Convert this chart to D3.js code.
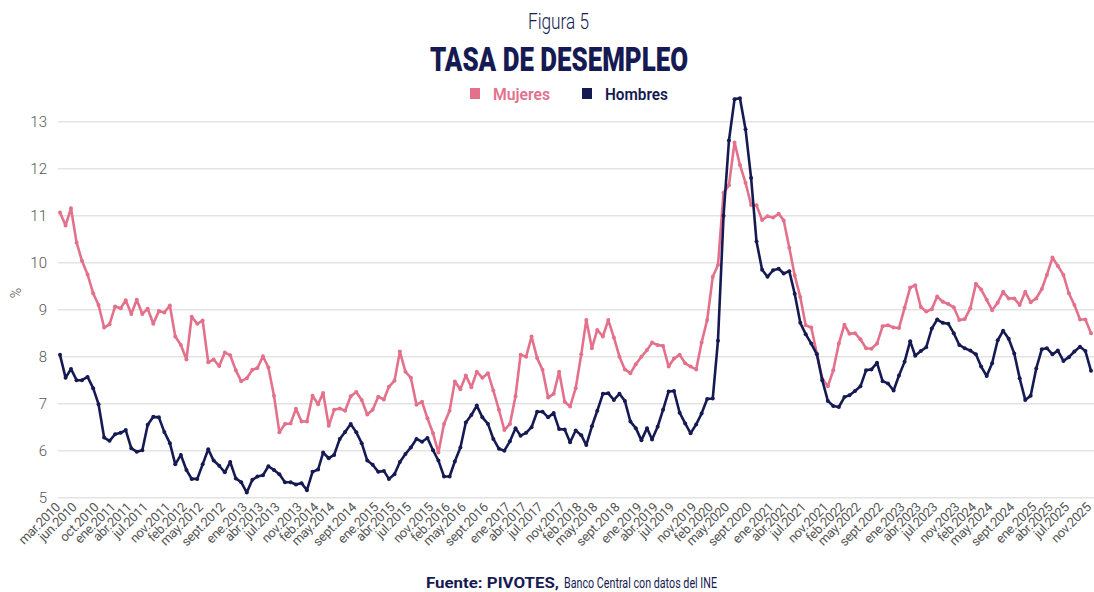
<!DOCTYPE html>
<html>
<head>
	<meta charset="utf-8">
	<title>Tasa de desempleo</title>
	<style>
		body { margin: 0; background: #fff; }
		text { font-family: Roboto, "Noto Sans", sans-serif; }
	</style>
</head>
<body>
	<svg id="container" width="1094" height="592"></svg>
</body>
<script src="https://cdn.jsdelivr.net/npm/d3@7"></script>
<script>
	// moving-quarter data, mar 2010 .. nov 2025 (one value per month)
	const startMonth = [2010, 2] // year, month index (0 = ene)
	const mujeres = [
		11.07, 10.79, 11.16, 10.43, 10.04, 9.75, 9.35, 9.10, 8.62, 8.69,
		9.07, 9.03, 9.20, 8.91, 9.21, 8.91, 9.02, 8.70, 8.97, 8.94,
		9.09, 8.43, 8.25, 7.94, 8.85, 8.70, 8.77, 7.88, 7.94, 7.80,
		8.09, 8.03, 7.71, 7.48, 7.54, 7.72, 7.76, 8.01, 7.77, 7.17,
		6.39, 6.57, 6.58, 6.89, 6.62, 6.62, 7.17, 6.99, 7.23, 6.53,
		6.87, 6.90, 6.85, 7.16, 7.25, 7.08, 6.77, 6.87, 7.15, 7.09,
		7.36, 7.49, 8.11, 7.68, 7.55, 6.98, 7.04, 6.69, 6.37, 5.96,
		6.57, 6.85, 7.47, 7.31, 7.60, 7.35, 7.68, 7.55, 7.65, 7.28,
		6.87, 6.44, 6.57, 7.16, 8.04, 8.00, 8.43, 7.97, 7.72, 7.13,
		7.21, 7.68, 7.04, 6.94, 7.33, 8.05, 8.78, 8.18, 8.57, 8.43,
		8.78, 8.41, 8.00, 7.73, 7.65, 7.84, 8.00, 8.14, 8.30, 8.25,
		8.23, 7.79, 7.96, 8.04, 7.86, 7.79, 7.73, 8.30, 8.78, 9.70,
		9.95, 11.49, 11.65, 12.56, 12.08, 11.70, 11.23, 11.22, 10.91, 10.99,
		10.96, 11.04, 10.90, 10.32, 9.73, 9.27, 8.67, 8.62, 8.07, 7.53,
		7.37, 7.71, 8.28, 8.68, 8.49, 8.50, 8.37, 8.18, 8.17, 8.28,
		8.65, 8.67, 8.62, 8.61, 9.04, 9.47, 9.52, 9.06, 8.96, 9.01,
		9.28, 9.17, 9.12, 9.05, 8.78, 8.80, 9.03, 9.55, 9.43, 9.21,
		8.99, 9.15, 9.38, 9.24, 9.24, 9.10, 9.38, 9.16, 9.24, 9.44,
		9.74, 10.11, 9.93, 9.74, 9.35, 9.10, 8.79, 8.79, 8.50
	]
	const hombres = [
		8.04, 7.55, 7.74, 7.50, 7.50, 7.57, 7.33, 6.99, 6.28, 6.21,
		6.35, 6.38, 6.44, 6.05, 5.98, 6.01, 6.55, 6.72, 6.71, 6.40,
		6.16, 5.71, 5.91, 5.59, 5.40, 5.40, 5.71, 6.03, 5.79, 5.68,
		5.54, 5.76, 5.41, 5.33, 5.11, 5.38, 5.45, 5.48, 5.67, 5.59,
		5.50, 5.33, 5.33, 5.28, 5.31, 5.16, 5.55, 5.60, 5.96, 5.84,
		5.91, 6.25, 6.40, 6.57, 6.39, 6.16, 5.79, 5.70, 5.55, 5.57,
		5.40, 5.50, 5.76, 5.93, 6.07, 6.25, 6.19, 6.27, 6.01, 5.79,
		5.45, 5.45, 5.77, 6.07, 6.60, 6.76, 6.96, 6.71, 6.57, 6.25,
		6.04, 6.00, 6.20, 6.48, 6.32, 6.38, 6.50, 6.83, 6.83, 6.71,
		6.80, 6.46, 6.45, 6.18, 6.43, 6.33, 6.12, 6.52, 6.85, 7.21,
		7.22, 7.08, 7.21, 7.06, 6.62, 6.48, 6.22, 6.48, 6.24, 6.51,
		6.87, 7.26, 7.27, 6.81, 6.58, 6.37, 6.56, 6.79, 7.10, 7.11,
		8.34, 11.00, 12.60, 13.48, 13.50, 12.84, 11.80, 10.45, 9.85, 9.70,
		9.84, 9.87, 9.77, 9.82, 9.34, 8.72, 8.48, 8.28, 8.05, 7.50,
		7.06, 6.95, 6.93, 7.14, 7.18, 7.27, 7.37, 7.71, 7.73, 7.87,
		7.48, 7.43, 7.28, 7.60, 7.89, 8.33, 8.02, 8.12, 8.20, 8.60,
		8.79, 8.72, 8.70, 8.50, 8.25, 8.18, 8.13, 8.05, 7.79, 7.59,
		7.86, 8.35, 8.55, 8.38, 8.07, 7.54, 7.08, 7.17, 7.75, 8.16,
		8.18, 8.05, 8.13, 7.91, 7.99, 8.11, 8.21, 8.12, 7.70
	]
	const tickLabels = [
		"mar.2010", "jun.2010", "oct.2010", "ene.2011", "abr.2011", "jul.2011", "nov.2011",
		"feb.2012", "may.2012", "sept.2012", "ene.2013", "abr.2013", "jul.2013", "nov.2013",
		"feb.2014", "may.2014", "sept.2014", "ene.2015", "abr.2015", "jul.2015", "nov.2015",
		"feb.2016", "may.2016", "sept.2016", "ene.2017", "abr.2017", "jul.2017", "nov.2017",
		"feb.2018", "may.2018", "sept.2018", "ene.2019", "abr.2019", "jul.2019", "nov.2019",
		"feb.2020", "may.2020", "sept.2020", "ene.2021", "abr.2021", "jul.2021", "nov.2021",
		"feb.2022", "may.2022", "sept.2022", "ene.2023", "abr.2023", "jul.2023", "nov.2023",
		"feb.2024", "may.2024", "sept.2024", "ene.2025", "abr.2025", "jul.2025", "nov.2025"
	]
	const yTicks = [5, 6, 7, 8, 9, 10, 11, 12, 13]
	const seriesNames = ["Mujeres", "Hombres"]

	const pink = "#e3718c"
	const navy = "#161a52"
	const monthIdx = {ene:0, feb:1, mar:2, abr:3, may:4, jun:5, jul:6, ago:7, sept:8, oct:9, nov:10, dic:11}

	let svg = d3.select("#container")

	let dateOf = i => new Date(Date.UTC(startMonth[0], startMonth[1] + i, 1))
	let parseLabel = s => {
		let [m, y] = s.split(".")
		return new Date(Date.UTC(+y, monthIdx[m], 1))
	}

	let x = d3.scaleUtc()
		.domain([dateOf(0), dateOf(mujeres.length - 1)])
		.range([60, 1091])
	let y = d3.scaleLinear()
		.domain([5, 13])
		.range([497.7, 121.7])

	// gridlines
	svg.append("g")
		.selectAll("line")
		.data(yTicks)
		.enter().append("line")
		.attr("x1", 58).attr("x2", 1094)
		.attr("y1", d => y(d)).attr("y2", d => y(d))
		.attr("stroke", "#e3e3e3")
		.attr("stroke-width", 1.5)

	// y axis labels
	svg.append("g")
		.selectAll("text")
		.data(yTicks)
		.enter().append("text")
		.attr("x", 47)
		.attr("y", d => y(d) + 5)
		.attr("text-anchor", "end")
		.attr("font-size", 15)
		.attr("fill", "#555")
		.attr("font-weight", 300)
		.text(d => d)

	svg.append("text")
		.attr("transform", "translate(21,293) rotate(-90)")
		.attr("text-anchor", "middle")
		.attr("font-size", 14)
		.attr("fill", "#555")
		.attr("font-weight", 300)
		.text("%")

	// x axis labels
	svg.append("g")
		.selectAll("text")
		.data(tickLabels)
		.enter().append("text")
		.attr("transform", d => `translate(${x(parseLabel(d)) + 1},${508}) rotate(-45)`)
		.attr("text-anchor", "end")
		.attr("font-size", 13)
		.attr("fill", "#555")
		.attr("letter-spacing", -0.3)
		.text(d => d)

	// lines
	let series = [mujeres, hombres]
	let colors = [pink, navy]
	let line = d3.line()
		.x((d, i) => x(dateOf(i)))
		.y(d => y(d))

	series.forEach((s, k) => {
		let g = svg.append("g")
		g.append("path")
			.attr("d", line(s))
			.attr("fill", "none")
			.attr("stroke", colors[k])
			.attr("stroke-width", 2.6)
			.attr("stroke-linejoin", "round")
		g.selectAll("circle")
			.data(s)
			.enter().append("circle")
			.attr("cx", (d, i) => x(dateOf(i)))
			.attr("cy", d => y(d))
			.attr("r", 2)
			.attr("fill", colors[k])
	})

	// titles
	svg.append("text")
		.attr("x", 528).attr("y", 29)
		.attr("font-size", 22)
		.attr("font-weight", 300)
		.attr("fill", navy)
		.attr("textLength", 61)
		.attr("lengthAdjust", "spacingAndGlyphs")
		.text("Figura 5")

	svg.append("text")
		.attr("x", 430).attr("y", 71)
		.attr("font-size", 34)
		.attr("font-weight", 900)
		.attr("fill", navy)
		.attr("textLength", 258)
		.attr("lengthAdjust", "spacingAndGlyphs")
		.text("TASA DE DESEMPLEO")

	// legend
	let legendPos = [[470, 493, 57], [582, 605, 63]]
	seriesNames.forEach((name, k) => {
		svg.append("rect")
			.attr("x", legendPos[k][0]).attr("y", 88)
			.attr("width", 10).attr("height", 11)
			.attr("fill", colors[k])
		svg.append("text")
			.attr("x", legendPos[k][1]).attr("y", 99.5)
			.attr("font-size", 17)
			.attr("font-weight", 600)
			.attr("fill", colors[k])
			.attr("textLength", legendPos[k][2])
			.attr("lengthAdjust", "spacingAndGlyphs")
			.text(name)
	})

	// source
	svg.append("text")
		.attr("x", 426).attr("y", 588)
		.attr("font-size", 15)
		.attr("font-weight", 700)
		.attr("fill", navy)
		.attr("textLength", 133)
		.attr("lengthAdjust", "spacingAndGlyphs")
		.text("Fuente: PIVOTES,")
	svg.append("text")
		.attr("x", 564).attr("y", 588)
		.attr("font-size", 15)
		.attr("fill", navy)
		.attr("textLength", 153)
		.attr("lengthAdjust", "spacingAndGlyphs")
		.text("Banco Central con datos del INE")
</script>
</html>
